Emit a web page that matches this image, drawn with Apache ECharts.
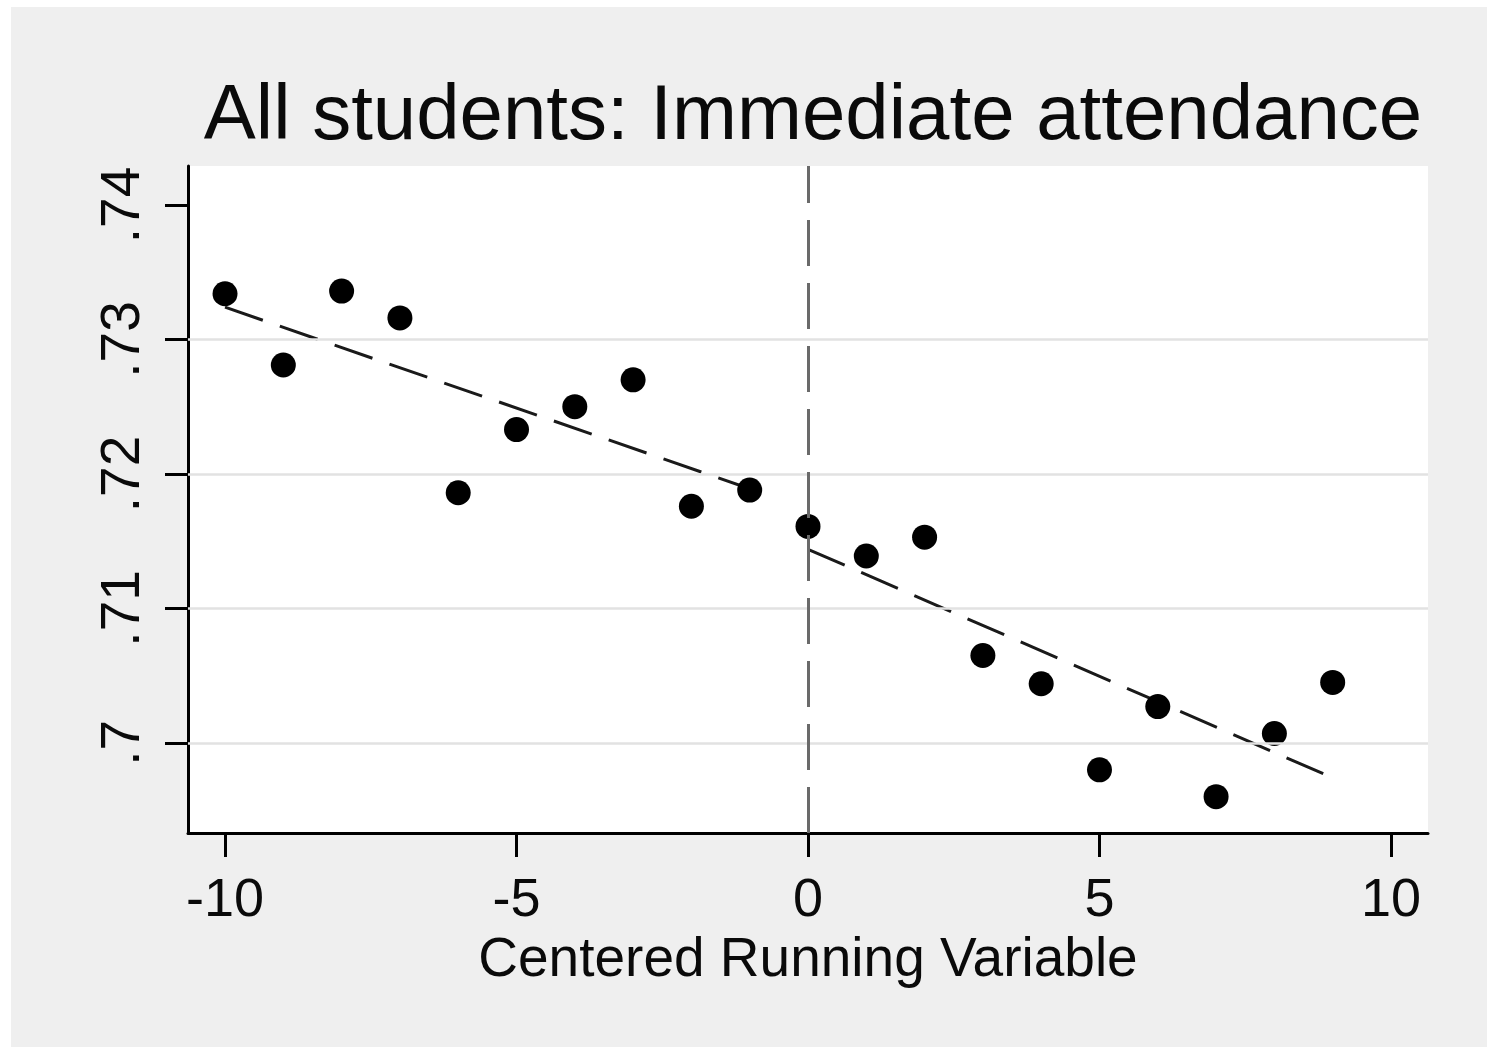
<!DOCTYPE html>
<html>
<head>
<meta charset="utf-8">
<script src="https://cdn.jsdelivr.net/npm/echarts@6/dist/echarts.min.js"></script>
<style>
  html, body { margin: 0; padding: 0; background: #ffffff; }
  #chart { position: absolute; left: 11px; top: 7px; width: 1476px; height: 1040px; background: #efefef; }
</style>
</head>
<body>
<div id="chart"></div>
<script>
// ---- data ----
const runningVar = [-10, -9, -8, -7, -6, -5, -4, -3, -2, -1, 0, 1, 2, 3, 4, 5, 6, 7, 8, 9];
const attendance = [0.7334, 0.7281, 0.7336, 0.7316, 0.7186, 0.7233, 0.7250, 0.7270, 0.7176, 0.7188,
                    0.7161, 0.7139, 0.7153, 0.7065, 0.7044, 0.6980, 0.7027, 0.6960, 0.7007, 0.7045];
const fitLeftX = [-10, -1];
const fitLeftY = [0.7324, 0.7189];
const fitRightX = [0, 9];
const fitRightY = [0.7144, 0.6974];
const xTicks = [-10, -5, 0, 5, 10];
const yTicks = [0.70, 0.71, 0.72, 0.73, 0.74];
const yGridLines = [0.70, 0.71, 0.72, 0.73];
const cutoff = 0;
const titleText = 'All students: Immediate attendance';
const xTitle = 'Centered Running Variable';

const FONT = '"Liberation Sans", Arial, sans-serif';
const chart = echarts.init(document.getElementById('chart'), null, { renderer: 'canvas' });

const fmtY = v => {
  let s = v.toFixed(2).replace(/^0/, '');
  if (s.endsWith('0')) s = s.slice(0, -1);
  return s;
};

const option = {
  animation: false,
  backgroundColor: '#efefef',
  title: {
    text: titleText,
    left: 797,
    top: 66,
    textAlign: 'center',
    textStyle: { fontFamily: FONT, fontSize: 78, fontWeight: 'normal', color: '#0a0a0a', lineHeight: 78 }
  },
  grid: { left: 177, right: 59, top: 159, bottom: 214, show: true, backgroundColor: '#ffffff', borderWidth: 0 },
  xAxis: {
    type: 'value',
    min: -10.635,
    max: 10.635,
    axisLine: { show: true, onZero: false, lineStyle: { color: '#000', width: 3 } },
    axisTick: { show: true, customValues: xTicks, length: 24, lineStyle: { color: '#000', width: 3 } },
    axisLabel: {
      customValues: xTicks, margin: 41,
      fontFamily: FONT, fontSize: 54, lineHeight: 54, color: '#0a0a0a',
      formatter: v => String(v)
    },
    splitLine: { show: false },
    name: xTitle,
    nameLocation: 'middle',
    nameGap: 97,
    nameTextStyle: { fontFamily: FONT, fontSize: 55, lineHeight: 55, color: '#0a0a0a' }
  },
  yAxis: {
    type: 'value',
    min: 0.6933,
    max: 0.7429,
    axisLine: { show: true, onZero: false, lineStyle: { color: '#000', width: 3 } },
    axisTick: { show: true, customValues: yTicks, length: 23, lineStyle: { color: '#000', width: 3 } },
    axisLabel: {
      customValues: yTicks, margin: 37, rotate: 90,
      fontFamily: FONT, fontSize: 55, lineHeight: 55, color: '#0a0a0a',
      formatter: v => fmtY(v)
    },
    splitLine: { show: false }
  },
  series: [
    {
      type: 'line',
      data: [],
      z: 1,
      silent: true,
      markLine: {
        silent: true,
        symbol: 'none',
        label: { show: false },
        lineStyle: { color: '#e2e2e2', width: 2.5, type: 'solid' },
        data: yGridLines.map(v => ({ yAxis: v }))
      }
    },
    {
      type: 'line',
      data: [],
      z: 2,
      silent: true,
      markLine: {
        silent: true,
        symbol: 'none',
        label: { show: false },
        lineStyle: { color: '#6a6a6a', width: 3, type: [46, 17] },
        data: [{ xAxis: cutoff }]
      }
    },
    {
      type: 'line',
      z: 3,
      data: fitLeftX.map((x, i) => [x, fitLeftY[i]]),
      showSymbol: false,
      lineStyle: { color: '#1a1a1a', width: 3, type: [40, 18] }
    },
    {
      type: 'line',
      z: 3,
      data: fitRightX.map((x, i) => [x, fitRightY[i]]),
      showSymbol: false,
      lineStyle: { color: '#1a1a1a', width: 3, type: [40, 18] }
    },
    {
      type: 'scatter',
      z: 4,
      data: runningVar.map((x, i) => [x, attendance[i]]),
      symbol: 'circle',
      symbolSize: 25,
      itemStyle: { color: '#000', opacity: 1 }
    }
  ]
};
chart.setOption(option);
</script>
</body>
</html>
